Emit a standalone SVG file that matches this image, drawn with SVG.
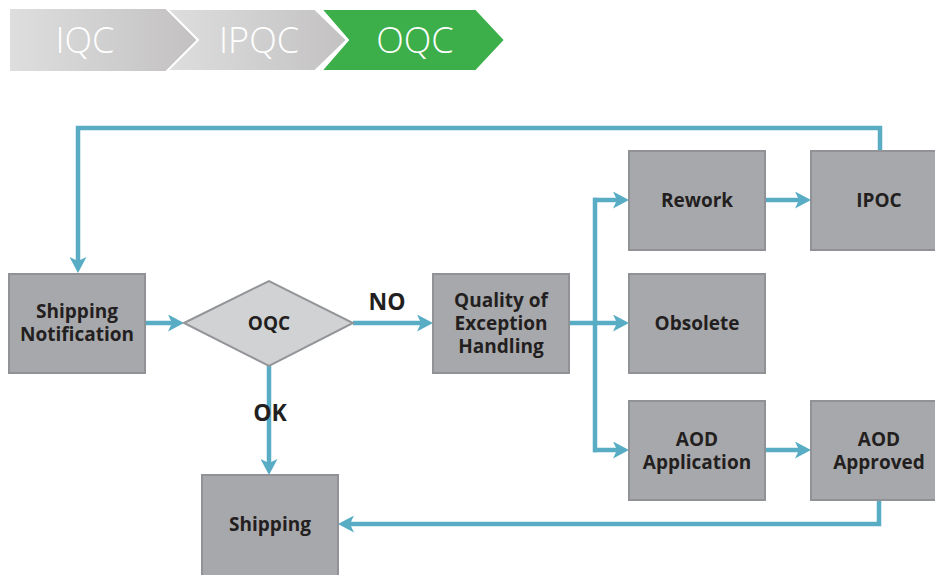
<svg xmlns="http://www.w3.org/2000/svg" width="935" height="575" viewBox="0 0 935 575">
<defs>
<linearGradient id="g1" x1="0" y1="0" x2="1" y2="0">
<stop offset="0" stop-color="#dedede"/>
<stop offset="1" stop-color="#c3c1c1"/>
</linearGradient>
<marker id="arr" markerUnits="userSpaceOnUse" markerWidth="16" markerHeight="17" refX="4" refY="8.5" orient="auto" viewBox="0 0 16 17">
<path d="M0,0 L16,8.5 L0,17 L4,8.5 z" fill="#58adc5"/>
</marker>
<style>
.box{fill:#a7a8ab;stroke:#919295;stroke-width:2}
.dia{fill:#d1d2d4;stroke:#939598;stroke-width:2}
.t{font-family:"Open Sans","Liberation Sans",sans-serif;font-weight:bold;font-size:19px;fill:#231f20;text-anchor:middle}
.lbl{font-family:"Open Sans","Liberation Sans",sans-serif;font-weight:bold;font-size:23px;fill:#231f20;text-anchor:middle}
.bt{font-family:"Open Sans","Liberation Sans",sans-serif;font-weight:300;font-size:36px;fill:#ffffff;text-anchor:middle}
.c{fill:none;stroke:#58adc5;stroke-width:4.5;marker-end:url(#arr)}
.cn{fill:none;stroke:#58adc5;stroke-width:4.5}
</style>
</defs>
<rect width="935" height="575" fill="#ffffff"/>
<g id="banner">
<polygon points="10,9 166,9 197,40 166,71 10,71" fill="url(#g1)"/>
<polygon points="167,9 315,9 347,40 315,71 167,71 198,40" fill="url(#g1)" stroke="#ffffff" stroke-width="2"/>
<polygon points="321,9 476,9 505,40 476,71 321,71 348,40" fill="#3daf4a" stroke="#ffffff" stroke-width="2"/>
<text class="bt" x="85" y="53">IQC</text>
<text class="bt" x="259" y="53">IPQC</text>
<text class="bt" x="415" y="53">OQC</text>
</g>
<g id="connectors">
<polyline class="c" points="880,151 880,128 78,128 78,261"/>
<line class="c" x1="145" y1="323" x2="172" y2="323"/>
<line class="c" x1="353" y1="323" x2="421" y2="323"/>
<line class="c" x1="269" y1="366" x2="269" y2="463"/>
<line class="c" x1="569" y1="323" x2="617" y2="323"/>
<line class="cn" x1="595" y1="197.75" x2="595" y2="452.25"/>
<polyline class="c" points="593,200 617,200"/>
<polyline class="c" points="593,450 617,450"/>
<line class="c" x1="765" y1="200" x2="799" y2="200"/>
<line class="c" x1="765" y1="450" x2="799" y2="450"/>
<polyline class="c" points="879,500 879,524 350,524"/>
<text class="lbl" x="387" y="310">NO</text>
<text class="lbl" x="270" y="421">OK</text>
</g>
<g id="shipping-notification">
<rect class="box" x="9" y="274" width="136" height="99"/>
<text class="t" x="77" y="318">Shipping</text>
<text class="t" x="77" y="341">Notification</text>
</g>
<g id="oqc">
<polygon class="dia" points="184,323 269,281 353,323 269,366"/>
<text class="t" x="269" y="330">OQC</text>
</g>
<g id="quality-exception">
<rect class="box" x="433" y="274" width="136" height="99"/>
<text class="t" x="501" y="307">Quality of</text>
<text class="t" x="501" y="330">Exception</text>
<text class="t" x="501" y="353">Handling</text>
</g>
<g id="rework">
<rect class="box" x="629" y="151" width="136" height="99"/>
<text class="t" x="697" y="207">Rework</text>
</g>
<g id="ipoc">
<rect class="box" x="811" y="151" width="140" height="99"/>
<text class="t" x="879" y="207">IPOC</text>
</g>
<g id="obsolete">
<rect class="box" x="629" y="274" width="136" height="99"/>
<text class="t" x="697" y="330">Obsolete</text>
</g>
<g id="aod-application">
<rect class="box" x="629" y="401" width="136" height="99"/>
<text class="t" x="697" y="446">AOD</text>
<text class="t" x="697" y="469">Application</text>
</g>
<g id="aod-approved">
<rect class="box" x="811" y="401" width="140" height="99"/>
<text class="t" x="879" y="446">AOD</text>
<text class="t" x="879" y="469">Approved</text>
</g>
<g id="shipping">
<rect class="box" x="202" y="475" width="136" height="110"/>
<text class="t" x="270" y="531">Shipping</text>
</g>
</svg>
